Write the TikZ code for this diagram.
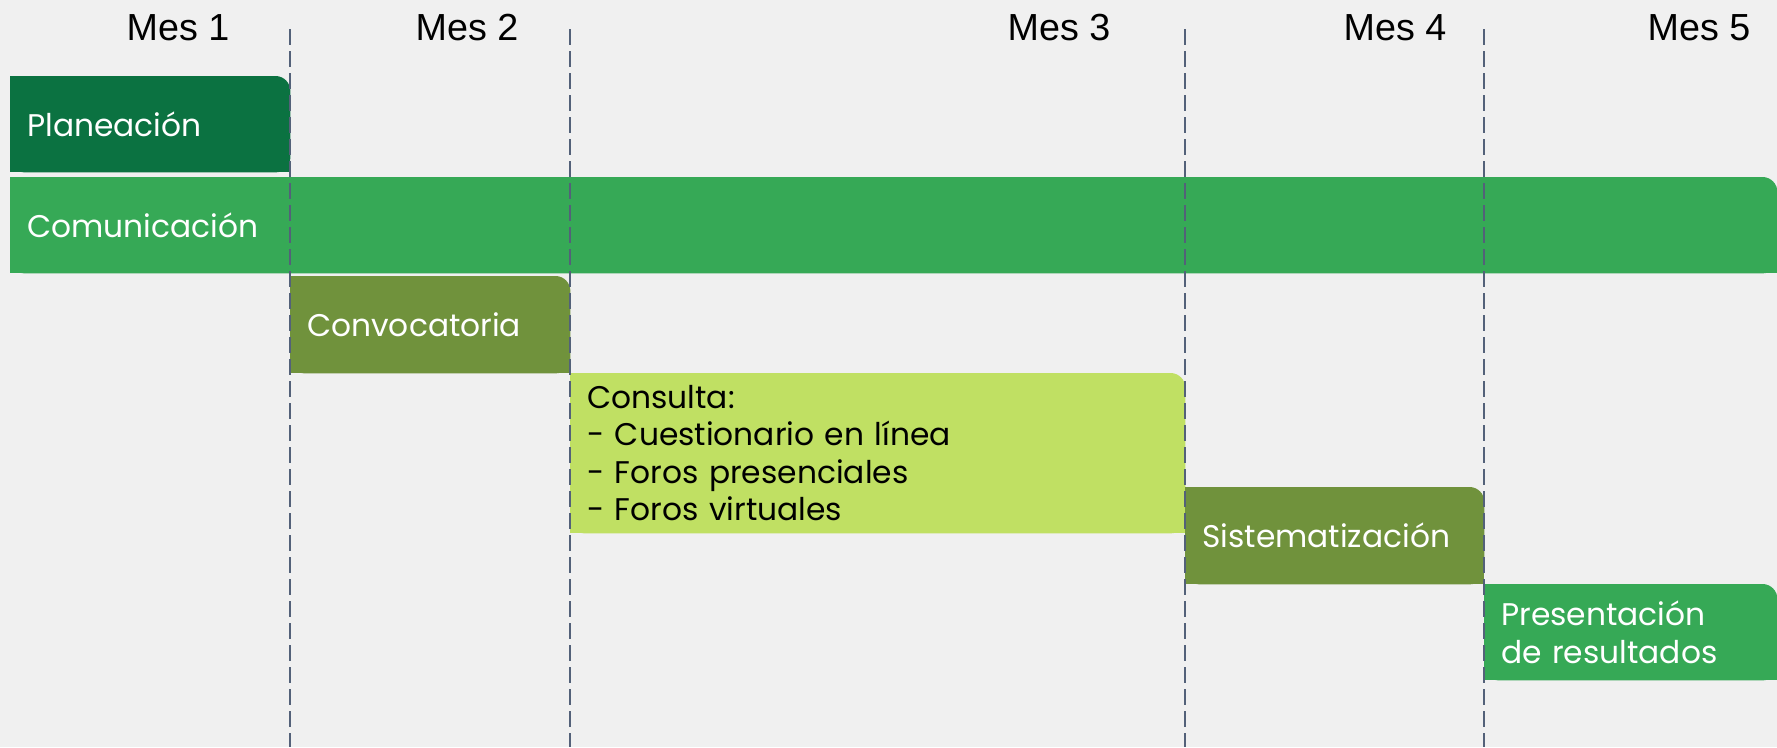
\documentclass[tikz,border=0pt]{standalone}
\usepackage{fontspec}
\setmainfont{Poppins}
\newfontfamily\arialfont{Liberation Sans}
\usetikzlibrary{backgrounds}
\definecolor{bgc}{RGB}{240,240,240}
\definecolor{darkg}{RGB}{11,114,65}
\definecolor{midg}{RGB}{54,169,86}
\definecolor{olive}{RGB}{112,146,60}
\definecolor{lime}{RGB}{192,224,99}
\definecolor{gridc}{RGB}{83,97,121}
\newcommand\barfill[2]{%
  \fill[#2, rounded corners=15pt] (#1.south west) rectangle (#1.north east);
  \fill[#2] (#1.south west) rectangle ([xshift=-15pt]#1.north east);
  \fill[#2] (#1.south west) rectangle ([yshift=-15pt]#1.north east);
}
\begin{document}
\begin{tikzpicture}[x=1pt,y=-1pt,
  bar/.style={anchor=north west, inner ysep=0pt, inner xsep=17pt, align=left,
    font=\fontsize{31.3}{37.5}\selectfont, text=white},
  mes/.style={font=\arialfont\fontsize{37.7}{40}\selectfont, anchor=base, text=black},
  gridline/.style={draw=gridc, line width=2.4pt, dash pattern=on 16pt off 6pt}]
\begin{scope}[on background layer]
  \fill[bgc] (0,0) rectangle (1777,747);
\end{scope}
\useasboundingbox (0,0) rectangle (1777,747);
% month labels
\node[mes] (m1) at (178,40) {Mes 1};
\node[mes] (m2) at (467,40) {Mes 2};
\node[mes] (m3) at (1059,40) {Mes 3};
\node[mes] (m4) at (1395,40) {Mes 4};
\node[mes] (m5) at (1699,40) {Mes 5};
% bars
\node[bar, text width=246pt, minimum height=96pt] (plan) at (10,76) {Planeación};
\node[bar, text width=1733pt, minimum height=96pt] (comm) at (10,177) {Comunicación};
\node[bar, text width=246pt, minimum height=97pt] (conv) at (290,276) {Convocatoria};
\node[bar, text width=581pt, minimum height=160pt, text=black] (cons) at (570,373)
  {Consulta:\\- Cuestionario en línea\\- Foros presenciales\\- Foros virtuales};
\node[bar, text width=265pt, minimum height=97pt] (sist) at (1185,487) {Sistematización};
\node[bar, text width=259pt, minimum height=96pt] (pres) at (1484,584) {Presentación\\de resultados};
\begin{scope}[on background layer]
  \barfill{plan}{darkg}
  \barfill{comm}{midg}
  \barfill{conv}{olive}
  \barfill{cons}{lime}
  \barfill{sist}{olive}
  \barfill{pres}{midg}
\end{scope}
% month boundaries
\coordinate (g1) at (290,29);
\coordinate (g2) at (570,29);
\coordinate (g3) at (1185,29);
\coordinate (g4) at (1484,29);
\foreach \g in {g1,g2,g3,g4}
  \draw[gridline] (\g) -- ++(0,718);
\end{tikzpicture}
\end{document}
